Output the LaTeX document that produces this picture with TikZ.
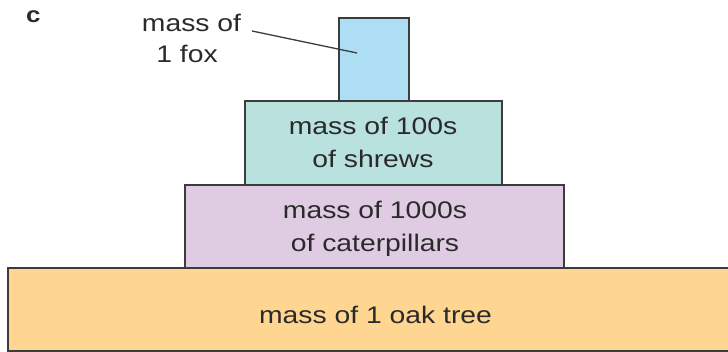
\documentclass[tikz,border=0pt]{standalone}
\usepackage{fontspec}
\setmainfont[FakeStretch=1.18]{Liberation Sans}
\definecolor{foxc}{HTML}{AEDEF4}
\definecolor{shrewc}{HTML}{B9E1DD}
\definecolor{catc}{HTML}{DFCBE2}
\definecolor{oakc}{HTML}{FFD691}
\definecolor{edgec}{HTML}{3C3C3C}
\definecolor{txtc}{HTML}{2A2A2A}
\tikzset{
  tier/.style={draw=edgec, line width=1.4pt, rectangle, inner sep=0pt, outer sep=0pt},
  lbl/.style={anchor=base, inner sep=0pt, text=txtc, font=\fontsize{24}{28}\selectfont},
  leader/.style={draw=edgec, line width=1.3pt}
}
\begin{document}
\begin{tikzpicture}[x=1pt,y=-1pt]
\useasboundingbox (0,0) rectangle (728,352);
% tiers
\node[tier, fill=oakc, minimum width=740pt, minimum height=83pt] (oak) at (378,309.5) {};
\node[tier, fill=catc, minimum width=379pt, minimum height=83pt] (cat) at (374.5,226.5) {};
\node[tier, fill=shrewc, minimum width=257pt, minimum height=84pt] (shrew) at (373.5,143) {};
\node[tier, fill=foxc, minimum width=70pt, minimum height=83pt] (fox) at (374,59.5) {};
% texts
\node[lbl] (oakt) at (375.5,324) {mass of 1 oak tree};
\node[lbl] (catt1) at (375,219) {mass of 1000s};
\node[lbl] (catt2) at (375,252) {of caterpillars};
\node[lbl] (shrewt1) at (373,135) {mass of 100s};
\node[lbl] (shrewt2) at (373,168) {of shrews};
\node[lbl] (foxt1) at (191.5,32) {mass of};
\node[lbl] (foxt2) at (187,63) {1 fox};
\node[anchor=base west, inner sep=0pt, text=txtc, font=\fontsize{22}{24}\selectfont\bfseries] (panel) at (26,23) {c};
% leader
\coordinate (ls) at (252,31);
\coordinate (le) at (357,53);
\draw[leader] (ls) -- (le);
\end{tikzpicture}
\end{document}
